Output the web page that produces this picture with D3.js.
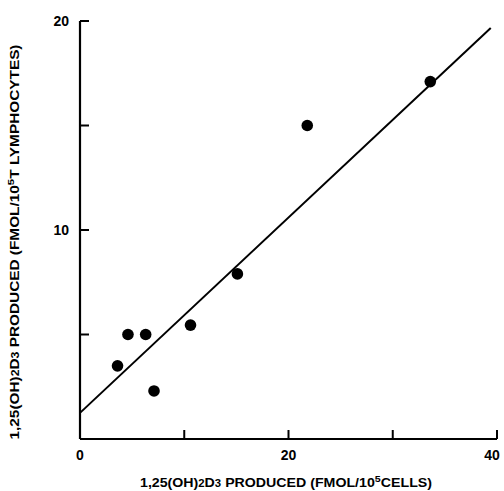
<!DOCTYPE html>
<html>
<head>
<meta charset="utf-8">
<script src="https://cdn.jsdelivr.net/npm/d3@7"></script>
<style>
  body { margin: 0; background: #fff; }
  text { font-family: "Liberation Sans", Arial, sans-serif; font-weight: bold; fill: #000; }
</style>
</head>
<body>
<svg id="chart" width="504" height="491"></svg>
<script>
// values
const cellsX = [3.6, 4.6, 6.3, 7.1, 10.6, 15.1, 21.8, 33.6];
const lymphY = [3.5, 5.0, 5.0, 2.3, 5.45, 7.9, 15.0, 17.1];
const fitLine = [[0, 1.25], [39.4, 19.67]];
const xTicks = [0, 10, 20, 30, 40];
const yTicks = [5, 10, 15, 20];
const xLabels = ["0", "20", "40"];
const yLabels = ["10", "20"];

const svg = d3.select("#chart");

const x = d3.scaleLinear().domain([0, 40]).range([80, 497]);
const y = d3.scaleLinear().domain([0, 20]).range([439, 21]);

// axis lines
svg.append("line")
    .attr("x1", x(0)).attr("x2", x(40))
    .attr("y1", y(0)).attr("y2", y(0))
    .attr("stroke", "#000").attr("stroke-width", 2.2);
svg.append("line")
    .attr("x1", x(0)).attr("x2", x(0))
    .attr("y1", y(0)).attr("y2", y(20))
    .attr("stroke", "#000").attr("stroke-width", 2.2);

// ticks point inward
svg.selectAll("line.xtick")
    .data(xTicks.slice(1))
    .enter()
    .append("line")
    .attr("class", "xtick")
    .attr("x1", d => x(d)).attr("x2", d => x(d))
    .attr("y1", y(0)).attr("y2", y(0) - 9)
    .attr("stroke", "#000").attr("stroke-width", 2);

svg.selectAll("line.ytick")
    .data(yTicks)
    .enter()
    .append("line")
    .attr("class", "ytick")
    .attr("x1", x(0)).attr("x2", x(0) + 9)
    .attr("y1", d => y(d)).attr("y2", d => y(d))
    .attr("stroke", "#000").attr("stroke-width", 2);

svg.selectAll("text.xlab")
    .data(xLabels)
    .enter()
    .append("text")
    .attr("class", "xlab")
    .attr("x", d => x(+d) - (+d === 40 ? 5 : 0))
    .attr("y", 460)
    .attr("text-anchor", "middle")
    .attr("font-size", 14)
    .text(d => d);

svg.selectAll("text.ylab")
    .data(yLabels)
    .enter()
    .append("text")
    .attr("class", "ylab")
    .attr("x", 69)
    .attr("y", d => y(+d) + 5)
    .attr("text-anchor", "end")
    .attr("font-size", 14)
    .text(d => d);

// regression line
svg.append("line")
    .attr("x1", x(fitLine[0][0])).attr("y1", y(fitLine[0][1]))
    .attr("x2", x(fitLine[1][0])).attr("y2", y(fitLine[1][1]))
    .attr("stroke", "#000").attr("stroke-width", 2);

svg.selectAll("circle.pt")
    .data(cellsX.map((v, i) => [v, lymphY[i]]))
    .enter()
    .append("circle")
    .attr("class", "pt")
    .attr("cx", d => x(d[0]))
    .attr("cy", d => y(d[1]))
    .attr("r", 5.8)
    .attr("fill", "#000");

// axis titles
function title(g, tail, sup, rest) {
    g.append("tspan").text("1,25(OH)");
    g.append("tspan").attr("font-size", "0.8em").text("2");
    g.append("tspan").text("D");
    g.append("tspan").attr("font-size", "0.8em").text("3");
    g.append("tspan").text(" PRODUCED " + tail);
    g.append("tspan").attr("font-size", "0.75em").attr("dy", -5).text(sup);
    g.append("tspan").attr("dy", 5).text(rest);
}

const xt = svg.append("text")
    .attr("x", 286).attr("y", 487)
    .attr("text-anchor", "middle")
    .attr("font-size", 12.5)
    .attr("textLength", 292)
    .attr("lengthAdjust", "spacingAndGlyphs");
title(xt, "(FMOL/10", "5", "CELLS)");

const yt = svg.append("text")
    .attr("transform", "translate(19,242) rotate(-90)")
    .attr("text-anchor", "middle")
    .attr("font-size", 12.5)
    .attr("textLength", 395)
    .attr("lengthAdjust", "spacingAndGlyphs");
title(yt, "(FMOL/10", "5", "T LYMPHOCYTES)");
</script>
</body>
</html>
